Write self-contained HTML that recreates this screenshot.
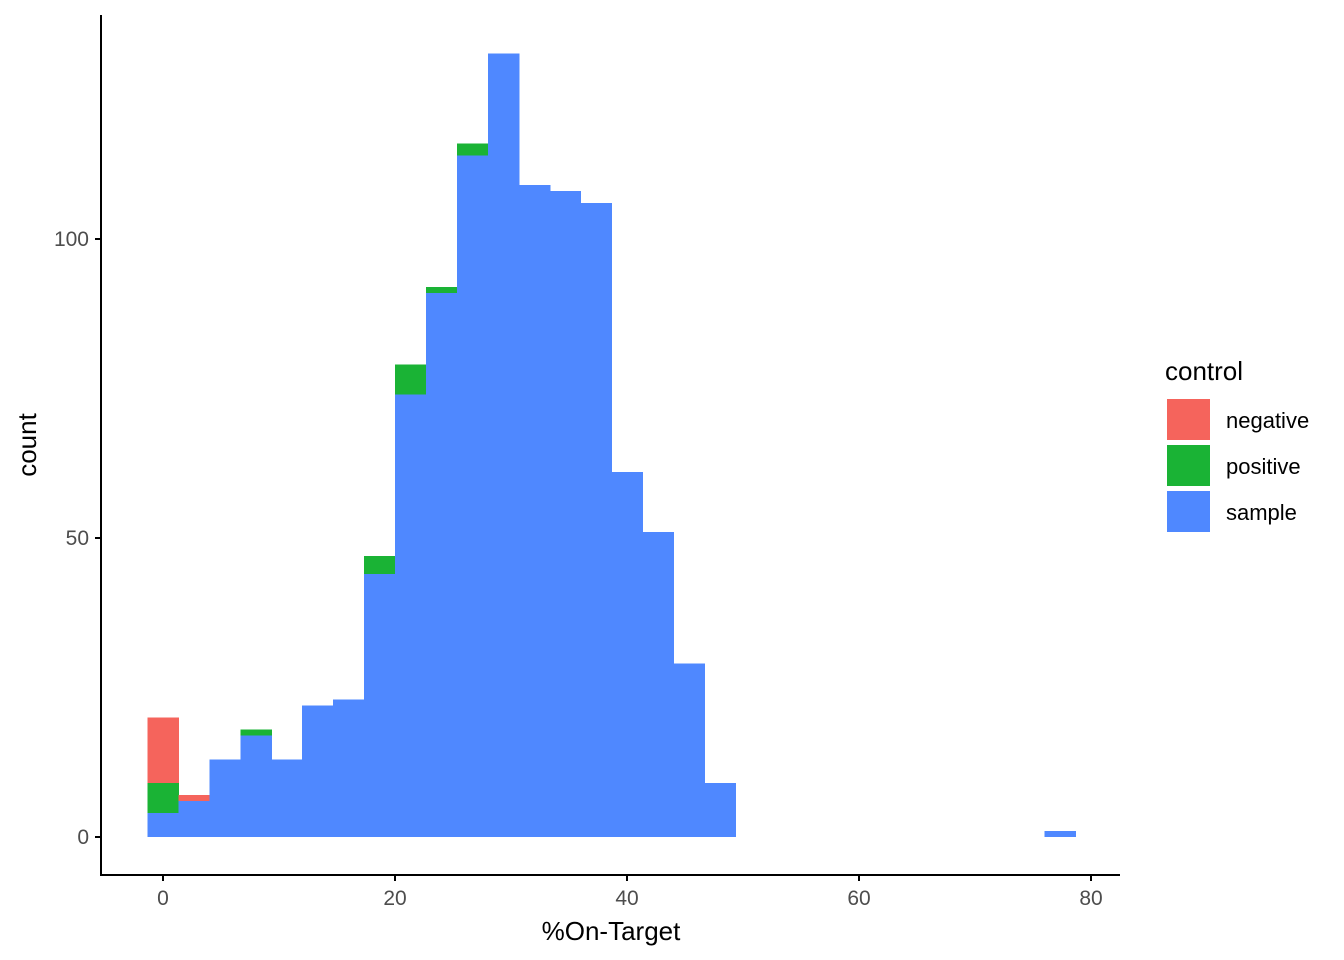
<!DOCTYPE html>
<html><head><meta charset="utf-8"><style>
body{margin:0;background:#fff;}
svg{display:block;font-family:"Liberation Sans",Arial,sans-serif;}
</style></head><body>
<svg width="1344" height="960">
<g id="bars" shape-rendering="crispEdges"></g>
<g id="axes"></g>
<g>
<text x="1165" y="380" font-size="26" fill="#000">control</text>
<rect x="1167" y="399" width="43" height="41" fill="#F5645C"/>
<rect x="1167" y="445" width="43" height="41" fill="#1AB335"/>
<rect x="1167" y="491" width="43" height="41" fill="#4F88FF"/>
<text x="1226" y="428" font-size="22">negative</text>
<text x="1226" y="474" font-size="22">positive</text>
<text x="1226" y="520" font-size="22">sample</text>
</g>
<text x="611" y="940" font-size="26" text-anchor="middle">%On-Target</text>
<text transform="translate(36,445) rotate(-90)" font-size="26" text-anchor="middle">count</text>
</svg>
<script>
const binIndex=[0,1,2,3,4,5,6,7,8,9,10,11,12,13,14,15,16,17,18,29];
const sampleCounts=[4,6,13,17,13,22,23,44,74,91,114,131,109,108,106,61,51,29,9,1];
const positiveCounts=[5,0,0,1,0,0,0,3,5,1,2,0,0,0,0,0,0,0,0,0];
const negativeCounts=[11,1,0,0,0,0,0,0,0,0,0,0,0,0,0,0,0,0,0,0];
const xTicks=[0,20,40,60,80];
const yTicks=[0,50,100];
const binWidth=80/30;
const NS="http://www.w3.org/2000/svg";
const xs=v=>163+v*(1091-163)/80;
const ys=v=>837-v*(837-239)/100;
const bars=document.getElementById('bars');
function rect(x0,x1,c0,c1,fill,name){
 if(c1<=c0)return;
 const r=document.createElementNS(NS,'rect');
 r.setAttribute('x',xs(x0));r.setAttribute('width',xs(x1)-xs(x0)+0.6);
 r.setAttribute('y',ys(c1));r.setAttribute('height',ys(c0)-ys(c1));
 r.setAttribute('fill',fill);
 
 
 bars.appendChild(r);
}
binIndex.forEach((b,i)=>{
 const x0=(b-0.5)*binWidth,x1=(b+0.5)*binWidth;
 const s=sampleCounts[i],p=positiveCounts[i],n=negativeCounts[i];
 rect(x0,x1,0,s,'#4F88FF','bar-sample-'+b);
 rect(x0,x1,s,s+p,'#1AB335','bar-positive-'+b);
 rect(x0,x1,s+p,s+p+n,'#F5645C','bar-negative-'+b);
});
const ax=document.getElementById('axes');
function line(x1,y1,x2,y2,name){
 const l=document.createElementNS(NS,'line');
 l.setAttribute('x1',x1);l.setAttribute('y1',y1);l.setAttribute('x2',x2);l.setAttribute('y2',y2);
 l.setAttribute('stroke','#000');l.setAttribute('stroke-width','2');
 
 
 ax.appendChild(l);
}
function text(x,y,s,anchor,name){
 const t=document.createElementNS(NS,'text');
 t.setAttribute('x',x);t.setAttribute('y',y);t.setAttribute('font-size','21');
 t.setAttribute('fill','#4d4d4d');t.setAttribute('text-anchor',anchor);
 t.textContent=s;
 
 
 ax.appendChild(t);
}
line(101,15,101,876,'y-axis-line');
line(100,875,1120,875,'x-axis-line');
xTicks.forEach(v=>{line(xs(v),875,xs(v),881,'x-tick');text(xs(v),905,String(v),'middle','x-tick-label');});
yTicks.forEach(v=>{line(95,ys(v),101,ys(v),'y-tick');text(89,ys(v)+7,String(v),'end','y-tick-label');});
</script>
</body></html>
